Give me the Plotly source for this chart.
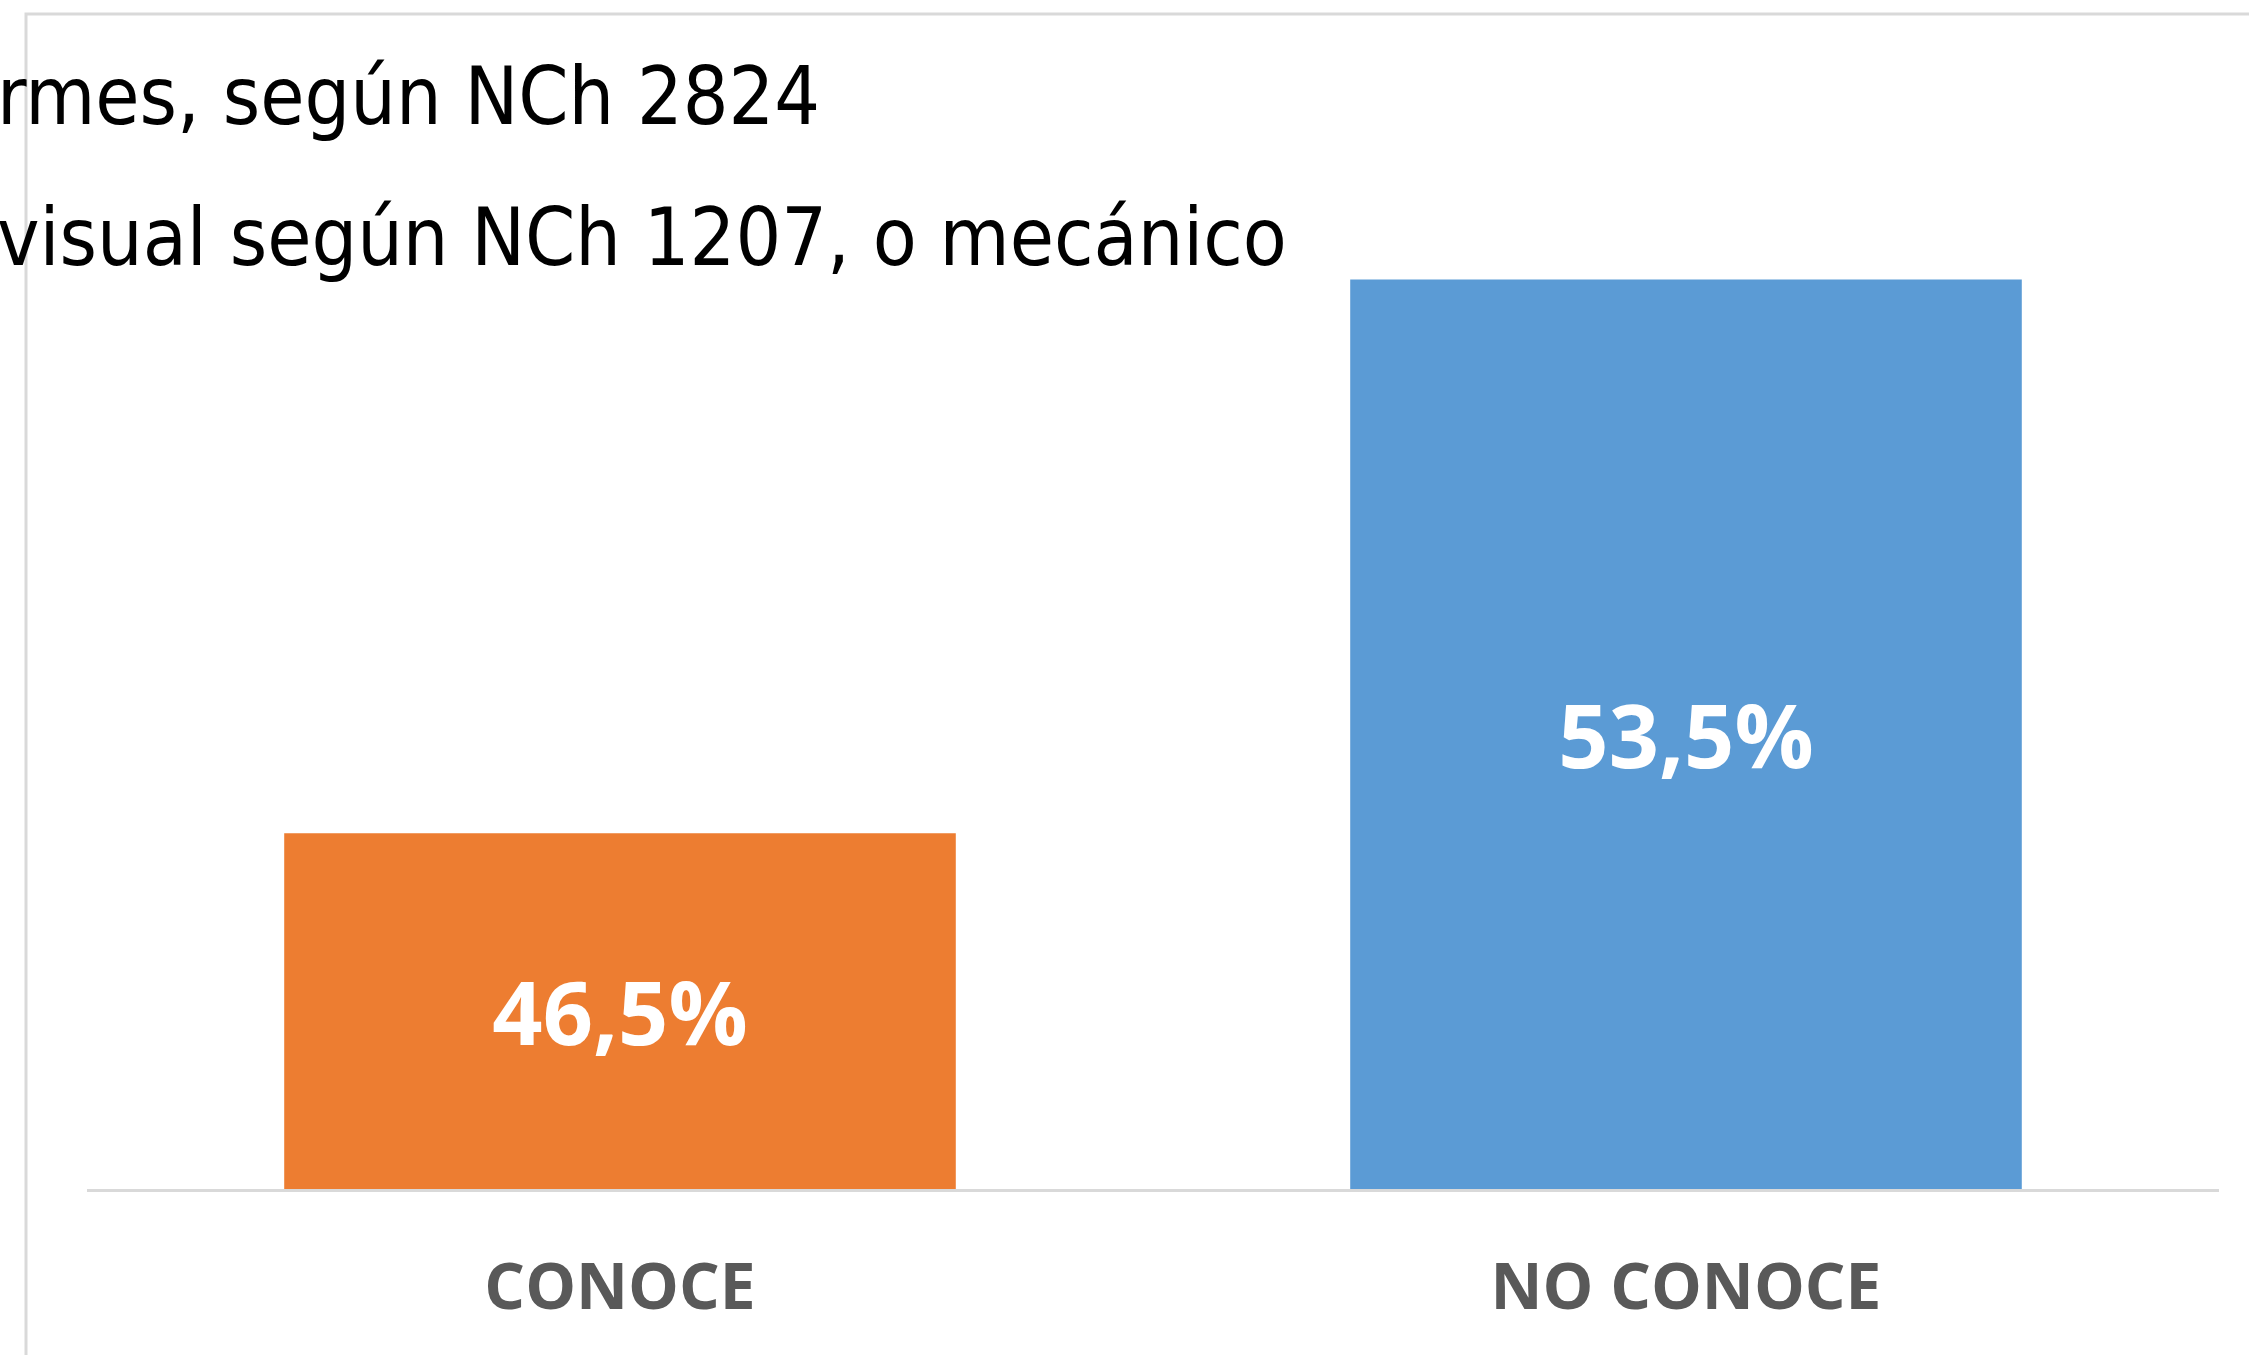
import plotly.graph_objects as go

categories = ["CONOCE", "NO CONOCE"]
values = [46.5, 53.5]
colors = ["#ED7D31", "#5B9BD5"]
title_lines = ["rmes, según NCh 2824", "visual según NCh 1207, o mecánico"]
axis_min, axis_max = 42, 55

W, H = 2249, 1355
L, R, T, B = 87, 30, 161, 166
pw, ph = W - L - R, H - T - B

def px(x):
    return (x - L) / pw

def py(y):
    return (H - B - y) / ph

# Bars originate at the value-axis minimum (as in the source chart)
fig = go.Figure(
    go.Bar(
        x=categories,
        y=[v - axis_min for v in values],
        base=axis_min,
        customdata=values,
        marker=dict(color=colors, line=dict(width=0)),
        texttemplate="%{customdata:.1f}%",
        textposition="inside",
        insidetextanchor="middle",
        textangle=0,
        textfont=dict(family="Open Sans", size=88, color="white", weight="bold"),
    )
)

fig.update_layout(
    width=W,
    height=H,
    margin=dict(l=L, r=R, t=T, b=B, autoexpand=False),
    paper_bgcolor="white",
    plot_bgcolor="white",
    separators=",.",
    bargap=0.37,
    showlegend=False,
)
fig.update_xaxes(
    showline=True,
    linecolor="#D9D9D9",
    linewidth=3,
    ticks="",
    showgrid=False,
    tickfont=dict(family="Open Sans", size=64, color="#595959", weight="bold"),
    ticklabelstandoff=40,
)
fig.update_yaxes(
    range=[axis_min, axis_max],
    visible=False,
    showgrid=False,
)

# chart frame (cropped at right and bottom)
fig.add_shape(
    type="rect", xref="paper", yref="paper",
    x0=px(26), x1=px(W + 50), y0=py(H + 50), y1=py(14),
    line=dict(color="#D9D9D9", width=3), fillcolor="rgba(0,0,0,0)", layer="below",
)

# title (cropped on the left, as in the source)
for line, yc in zip(title_lines, [96, 238]):
    fig.add_annotation(
        text=line, xref="paper", yref="paper",
        x=px(-5), y=py(yc), xanchor="left", yanchor="middle",
        showarrow=False,
        font=dict(family="Liberation Sans Narrow, DejaVu Sans Condensed, DejaVu Sans", size=80, color="black"),
    )

fig.write_html(
    "out.html",
    config={"displayModeBar": False},
    post_script="document.body.style.margin='0';document.body.style.overflow='hidden';",
)
